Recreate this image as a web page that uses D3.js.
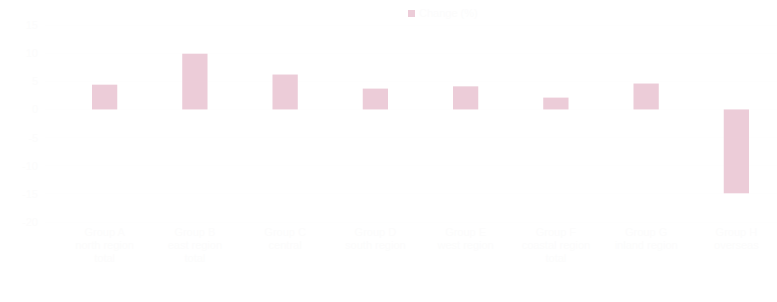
<!DOCTYPE html>
<html lang="en">
<head>
    <meta charset="UTF-8">
    <title>Bar Chart</title>
    <script src="https://d3js.org/d3.v7.min.js"></script>
    <style>
        body { margin: 0; background: #ffffff; font-family: "Liberation Sans", Arial, sans-serif; }
        .faint { fill: #fcfcfc; font-size: 11px; }
    </style>
</head>
<body>
    <div id="chart"></div>
    <script>
        // chart data
        const categories = [
            "Group A north region total",
            "Group B east region total",
            "Group C central",
            "Group D south region",
            "Group E west region",
            "Group F coastal region total",
            "Group G inland region",
            "Group H overseas"
        ];
        const values = [4.4, 9.9, 6.2, 3.7, 4.1, 2.1, 4.6, -14.9];
        const yTicks = [-20, -15, -10, -5, 0, 5, 10, 15];
        const seriesName = "Change (%)";

        const width = 777, height = 302;

        const svg = d3.select("#chart")
            .append("svg")
            .attr("width", width)
            .attr("height", height);

        const x = d3.scaleBand()
            .domain(categories)
            .range([59.5, 781.5])
            .paddingInner(0.72)
            .paddingOuter(0.36);

        const y = d3.scaleLinear()
            .domain([-20, 15])
            .range([222, 25]);

        // gridlines, almost invisible
        svg.append("g")
            .selectAll("line")
            .data(yTicks)
            .enter()
            .append("line")
            .attr("x1", 45)
            .attr("x2", width)
            .attr("y1", d => y(d))
            .attr("y2", d => y(d))
            .attr("stroke", "#fefefe");

        // y axis labels
        svg.append("g")
            .selectAll("text")
            .data(yTicks)
            .enter()
            .append("text")
            .attr("class", "faint")
            .attr("x", 38)
            .attr("y", d => y(d) + 4)
            .attr("text-anchor", "end")
            .text(d => d);

        // bars
        svg.append("g")
            .selectAll("rect")
            .data(values)
            .enter()
            .append("rect")
            .attr("x", (d, i) => x(categories[i]))
            .attr("width", x.bandwidth())
            .attr("y", d => y(Math.max(0, d)))
            .attr("height", d => Math.abs(y(d) - y(0)))
            .attr("fill", "#ecccd8");

        // x labels, wrapped by hand into lines of ~2 words
        const labels = svg.append("g")
            .selectAll("text")
            .data(categories)
            .enter()
            .append("text")
            .attr("class", "faint")
            .attr("text-anchor", "middle")
            .attr("x", d => x(d) + x.bandwidth() / 2)
            .attr("y", 236);

        labels.each(function (d) {
            const words = d.split(" ");
            const lines = [];
            for (let i = 0; i < words.length; i += 2) lines.push(words.slice(i, i + 2).join(" "));
            d3.select(this).selectAll("tspan")
                .data(lines)
                .enter()
                .append("tspan")
                .attr("x", x(d) + x.bandwidth() / 2)
                .attr("dy", (l, i) => i === 0 ? 0 : 13)
                .text(l => l);
        });

        // legend
        const legend = svg.append("g").attr("transform", "translate(408,10)");
        legend.append("rect")
            .attr("width", 7)
            .attr("height", 7)
            .attr("fill", "#ecccd8");
        legend.append("text")
            .attr("class", "faint")
            .attr("x", 11)
            .attr("y", 7)
            .text(seriesName);
    </script>
</body>
</html>
